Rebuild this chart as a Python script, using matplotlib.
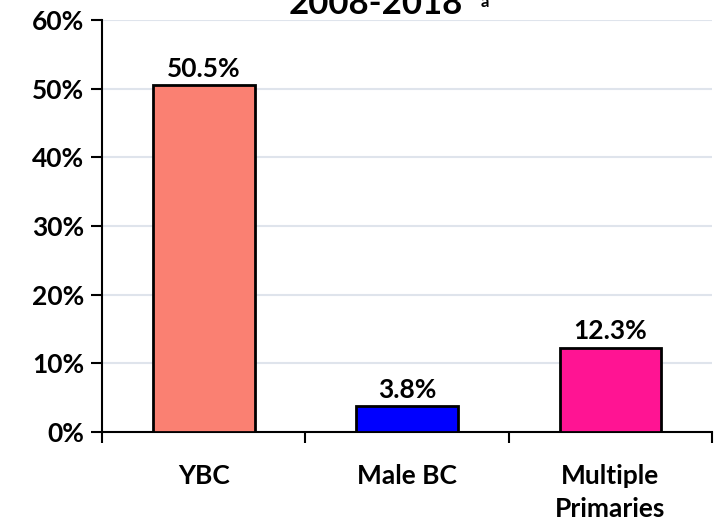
import matplotlib
matplotlib.use("Agg")
import matplotlib.pyplot as plt
from matplotlib.ticker import FixedLocator

categories = ["YBC", "Male BC", "Multiple\nPrimaries"]
values = [50.5, 3.8, 12.3]
colors = ["#FA8072", "#0000FF", "#FF1493"]
yticks = [0, 10, 20, 30, 40, 50, 60]

plt.rcParams['font.family'] = ['Lato', 'DejaVu Sans']
plt.rcParams['font.weight'] = 'bold'

fig = plt.figure(figsize=(7.17, 5.22), dpi=100)
ax = fig.add_axes([102/717, 1-432/522, 610/717, 412/522])

x = list(range(len(categories)))
bars = ax.bar(x, values, width=0.5, color=colors, edgecolor='black', linewidth=2, zorder=3)
for xi, v in zip(x, values):
    ax.annotate(f"{v}%", (xi, v), xytext=(0, 3), textcoords='offset points',
                ha='center', va='bottom', fontsize=19, fontweight='bold')

ax.set_xlim(-0.5, 2.5)
ax.set_ylim(0, 60)
ax.set_yticks(yticks)
ax.set_yticklabels([f"{t}%" for t in yticks], fontsize=19, fontweight='bold')
ax.yaxis.grid(True, color='#dfe4ec', linewidth=1.5, zorder=0)
ax.set_axisbelow(True)

ax.xaxis.set_major_locator(FixedLocator([-0.5, 0.5, 1.5, 2.5]))
ax.xaxis.set_minor_locator(FixedLocator(x))
ax.set_xticklabels([], minor=False)
ax.set_xticklabels(categories, minor=True, fontsize=19, fontweight='bold', linespacing=1.45)
ax.tick_params(axis='x', which='major', length=8, width=1.5, direction='out')
ax.tick_params(axis='x', which='minor', length=0, pad=23)
ax.tick_params(axis='y', length=8, width=1.5, direction='out', pad=5)
for lab in ax.get_xticklabels(minor=True):
    lab.set_verticalalignment('top')

for s in ['top', 'right']:
    ax.spines[s].set_visible(False)
for s in ['left', 'bottom']:
    ax.spines[s].set_linewidth(1.5)

fig.text(376/717, 1-14/522, "2008-2018", ha='center', va='baseline',
         fontsize=25, fontweight='bold')
fig.text(481/717, 1-7/522, "a", ha='left', va='baseline', fontsize=12, fontweight='bold')

fig.savefig("out.png", dpi=100)
